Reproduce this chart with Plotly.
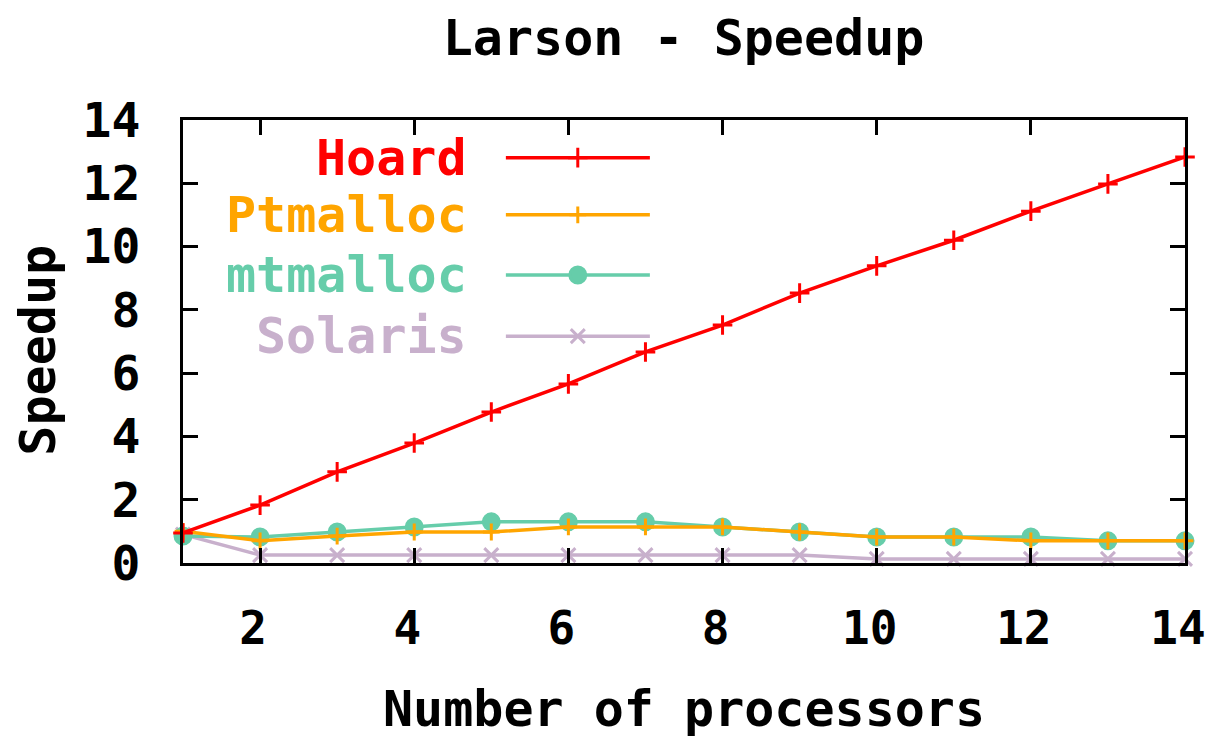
import plotly.graph_objects as go

processors = list(range(1, 15))
hoard = [0.95, 1.83, 2.88, 3.79, 4.77, 5.66, 6.67, 7.52, 8.53, 9.39, 10.2, 11.12, 11.98, 12.83]
ptmalloc = [1.0, 0.7, 0.85, 0.98, 0.98, 1.14, 1.14, 1.14, 0.98, 0.82, 0.82, 0.7, 0.7, 0.7]
mtmalloc = [0.85, 0.82, 0.98, 1.14, 1.3, 1.3, 1.3, 1.14, 0.98, 0.82, 0.82, 0.82, 0.7, 0.7]
solaris = [0.9, 0.25, 0.25, 0.25, 0.25, 0.25, 0.25, 0.25, 0.25, 0.13, 0.13, 0.13, 0.13, 0.13]

names = ["Hoard", "Ptmalloc", "mtmalloc", "Solaris"]
series = [hoard, ptmalloc, mtmalloc, solaris]
colors = ["#ff0000", "#ffa500", "#66cdaa", "#c8b0cc"]
symbols = ["cross-thin", "cross-thin", "circle", "x-thin"]
msizes = [14, 12, 16, 14]

FONT = "DejaVu Sans Mono"

fig = go.Figure()
# draw in reverse order so Hoard is on top
for name, ys, col, sym, ms in reversed(list(zip(names, series, colors, symbols, msizes))):
    fig.add_trace(go.Scatter(
        x=processors, y=ys, mode="lines+markers", name=name,
        line=dict(color=col, width=3.5),
        marker=dict(symbol=sym, size=ms, color=col, line=dict(color=col, width=3)),
        showlegend=False, cliponaxis=False,
    ))

# custom legend (text right-aligned, sample line to the right)
leg_y = [0.915, 0.786, 0.65, 0.512]
for name, col, sym, ms, ly in zip(names, colors, symbols, msizes, leg_y):
    fig.add_trace(go.Scatter(
        x=[0.0, 0.5, 1.0], y=[ly, ly, ly], xaxis="x2", yaxis="y2",
        mode="lines", line=dict(color=col, width=3.5), showlegend=False, hoverinfo="skip",
    ))
    fig.add_trace(go.Scatter(
        x=[0.5], y=[ly], xaxis="x2", yaxis="y2",
        mode="markers", marker=dict(symbol=sym, size=ms, color=col, line=dict(color=col, width=3)),
        showlegend=False, hoverinfo="skip",
    ))
    fig.add_annotation(
        x=0.2855, y=ly, xref="paper", yref="paper", text=name,
        showarrow=False, xanchor="right", yanchor="middle",
        font=dict(family=FONT, size=50, color=col, weight="bold"),
    )

fig.add_annotation(x=0.5, y=-0.33, xref="paper", yref="paper",
                   text="Number of processors", showarrow=False,
                   xanchor="center", yanchor="middle",
                   font=dict(family=FONT, size=50, color="black", weight="bold"))
fig.add_annotation(x=-0.145, y=0.481, xref="paper", yref="paper",
                   text="Speedup", showarrow=False, textangle=-90,
                   xanchor="center", yanchor="middle",
                   font=dict(family=FONT, size=50, color="black", weight="bold"))

axis_common = dict(
    showgrid=False, zeroline=False, showline=True, linecolor="black", linewidth=3,
    mirror="allticks", ticks="inside", ticklen=15, tickwidth=3, tickcolor="black",
    ticklabeloverflow="allow", automargin=False,
)

fig.update_layout(
    width=1212, height=739,
    margin=dict(l=183, r=27, t=120, b=176),
    paper_bgcolor="white", plot_bgcolor="rgba(0,0,0,0)",
    title=dict(text="Larson - Speedup", x=0.564, xanchor="center",
               y=0.949, yanchor="middle", yref="container",
               font=dict(family=FONT, size=50, color="black", weight="bold")),
    xaxis=dict(range=[1, 14], tickvals=[2, 4, 6, 8, 10, 12, 14],
               ticklabelstandoff=23, ticklabelshift=-7, domain=[0, 1],
               tickfont=dict(family=FONT, size=46, color="black", weight="bold"),
               **axis_common),
    yaxis=dict(range=[0, 14], tickvals=list(range(0, 15, 2)),
               ticklabelstandoff=30, domain=[0, 1],
               tickfont=dict(family=FONT, size=48, color="black", weight="bold"),
               **axis_common),
    xaxis2=dict(domain=[0.322, 0.466], range=[0, 1], visible=False, anchor="y2",
                automargin=False),
    yaxis2=dict(domain=[0, 1], range=[0, 1], visible=False, anchor="x2",
                automargin=False),
)

fig.write_html("out.html")
